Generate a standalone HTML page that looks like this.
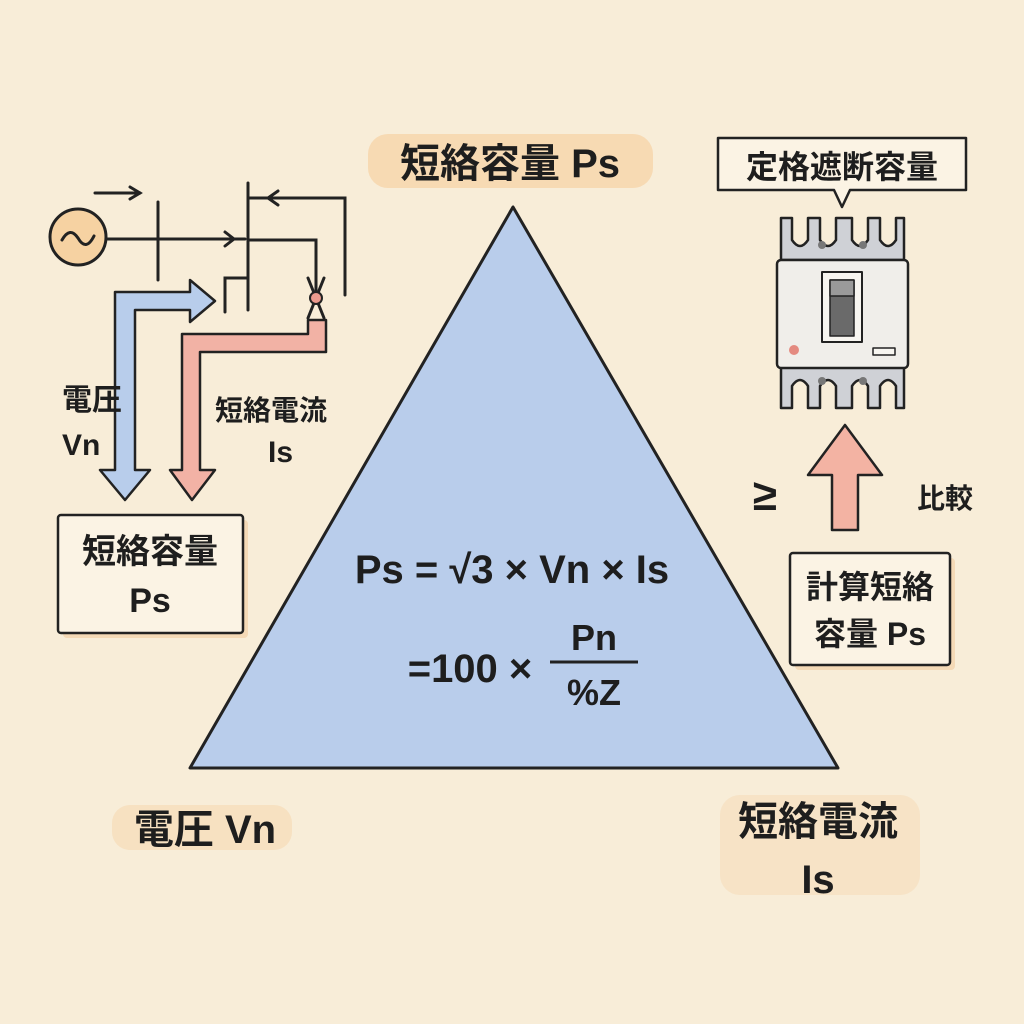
<!DOCTYPE html>
<html><head><meta charset="utf-8"><style>
html,body{margin:0;padding:0;background:#f8edd8;}
svg{display:block}
text{font-family:"Liberation Sans","Noto Sans CJK JP",sans-serif;font-weight:bold;fill:#1e1e1e;}
</style></head><body>
<svg width="1024" height="1024" viewBox="0 0 1024 1024">
<rect width="1024" height="1024" fill="#f8edd8"/>
<polygon points="513,207 190,768 838,768" fill="#b9cdeb" stroke="#222" stroke-width="3" stroke-linejoin="round"/>
<rect x="368" y="134" width="285" height="54" rx="20" fill="#f6d5aa" opacity="0.8"/>
<text x="510" y="177" font-size="40" text-anchor="middle">短絡容量 Ps</text>
<text x="512" y="583" font-size="40" text-anchor="middle">Ps = √3 × Vn × Is</text>
<text x="470" y="682" font-size="40" text-anchor="middle">=100 ×</text>
<line x1="550" y1="662" x2="638" y2="662" stroke="#222" stroke-width="3"/>
<text x="594" y="650" font-size="36" text-anchor="middle">Pn</text>
<text x="594" y="705" font-size="36" text-anchor="middle">%Z</text>
<rect x="112" y="805" width="180" height="45" rx="18" fill="#f6d9b3" opacity="0.6"/>
<text x="205" y="843" font-size="40" text-anchor="middle">電圧 Vn</text>
<rect x="720" y="795" width="200" height="100" rx="20" fill="#f6d9b3" opacity="0.5"/>
<text x="818" y="835" font-size="40" text-anchor="middle">短絡電流</text>
<text x="818" y="893" font-size="40" text-anchor="middle">Is</text>
<g stroke="#222" stroke-width="3" fill="none" stroke-linecap="round">
<circle cx="78" cy="237" r="28" fill="#f6d2a2"/>
<path d="M62,240 q8,-14 16,-2 q8,14 16,-2"/>
<line x1="106" y1="239" x2="245" y2="239"/>
<path d="M225,232 L234,239 L225,246"/>
<line x1="158" y1="202" x2="158" y2="280"/>
<line x1="248" y1="183" x2="248" y2="310"/>
<line x1="95" y1="193" x2="140" y2="193"/>
<path d="M130,187 L140,193 L130,199"/>
<path d="M248,198 L345,198 L345,295"/>
<path d="M278,191 L268,198 L278,205"/>
<path d="M248,240 L316,240 L316,290"/>
<path d="M225,312 L225,278 L248,278"/>
<path d="M308,278 L324,318 M324,278 L308,318"/>
</g>
<circle cx="316" cy="298" r="6" fill="#ec9a8e" stroke="#222" stroke-width="2"/>
<path d="M115,470 L115,292 L190,292 L190,280 L215,301 L190,322 L190,310 L135,310 L135,470 L150,470 L125,500 L100,470 Z" fill="#b8cdeb" stroke="#222" stroke-width="2.5" stroke-linejoin="round"/>
<path d="M308,320 L326,320 L326,352 L200,352 L200,470 L215,470 L192,500 L170,470 L182,470 L182,334 L308,334 Z" fill="#f2b2a5" stroke="#222" stroke-width="2.5" stroke-linejoin="round"/>
<text x="62" y="410" font-size="30">電圧</text>
<text x="62" y="455" font-size="30">Vn</text>
<text x="215" y="420" font-size="28">短絡電流</text>
<text x="268" y="462" font-size="30">Is</text>
<rect x="63" y="520" width="185" height="118" fill="#f4d9b6" rx="4"/>
<rect x="58" y="515" width="185" height="118" fill="#fbf3e4" stroke="#222" stroke-width="2.5" rx="3"/>
<text x="150" y="563" font-size="34" text-anchor="middle">短絡容量</text>
<text x="150" y="612" font-size="34" text-anchor="middle">Ps</text>
<path d="M718,138 L966,138 L966,190 L850,190 L842,207 L834,190 L718,190 Z" fill="#fbf3e4" stroke="#222" stroke-width="2.5" stroke-linejoin="round"/>
<text x="842" y="178" font-size="32" text-anchor="middle">定格遮断容量</text>
<g stroke="#222" stroke-width="2.5" stroke-linejoin="round">
<path d="M781,260 L781,218 L792,218 L792,240 Q800,252 808,240 L808,218 L820,218 L820,240 Q828,252 836,240 L836,218 L852,218 L852,240 Q860,252 868,240 L868,218 L880,218 L880,240 Q888,252 896,240 L896,218 L904,218 L904,260 Z" fill="#cfd1d6"/>
<path d="M781,365 L781,408 L792,408 L792,386 Q800,374 808,386 L808,408 L820,408 L820,386 Q828,374 836,386 L836,408 L852,408 L852,386 Q860,374 868,386 L868,408 L880,408 L880,386 Q888,374 896,386 L896,408 L904,408 L904,365 Z" fill="#cfd1d6"/>
<rect x="777" y="260" width="131" height="108" rx="4" fill="#f0eeea"/>
<rect x="822" y="272" width="40" height="70" fill="#f7f5f0" stroke-width="2"/>
<rect x="830" y="280" width="24" height="56" fill="#6a6a6a" stroke-width="1.5"/>
<rect x="830" y="280" width="24" height="16" fill="#9a9a9a" stroke-width="1.5"/>
<rect x="873" y="348" width="22" height="7" fill="#f7f5f0" stroke-width="1.5"/>
</g>
<g fill="#777"><circle cx="822" cy="245" r="4"/><circle cx="863" cy="245" r="4"/><circle cx="822" cy="381" r="4"/><circle cx="863" cy="381" r="4"/></g>
<circle cx="794" cy="350" r="5" fill="#e48a80"/>
<path d="M832,530 L832,475 L808,475 L845,425 L882,475 L858,475 L858,530 Z" fill="#f3b3a3" stroke="#222" stroke-width="2.5" stroke-linejoin="round"/>
<text x="765" y="510" font-size="44" text-anchor="middle">≥</text>
<text x="945" y="508" font-size="28" text-anchor="middle">比較</text>
<rect x="795" y="558" width="160" height="112" fill="#f4d9b6" rx="4"/>
<rect x="790" y="553" width="160" height="112" fill="#fbf3e4" stroke="#222" stroke-width="2.5" rx="3"/>
<text x="870" y="598" font-size="32" text-anchor="middle">計算短絡</text>
<text x="870" y="645" font-size="32" text-anchor="middle">容量 Ps</text>
</svg>
</body></html>
